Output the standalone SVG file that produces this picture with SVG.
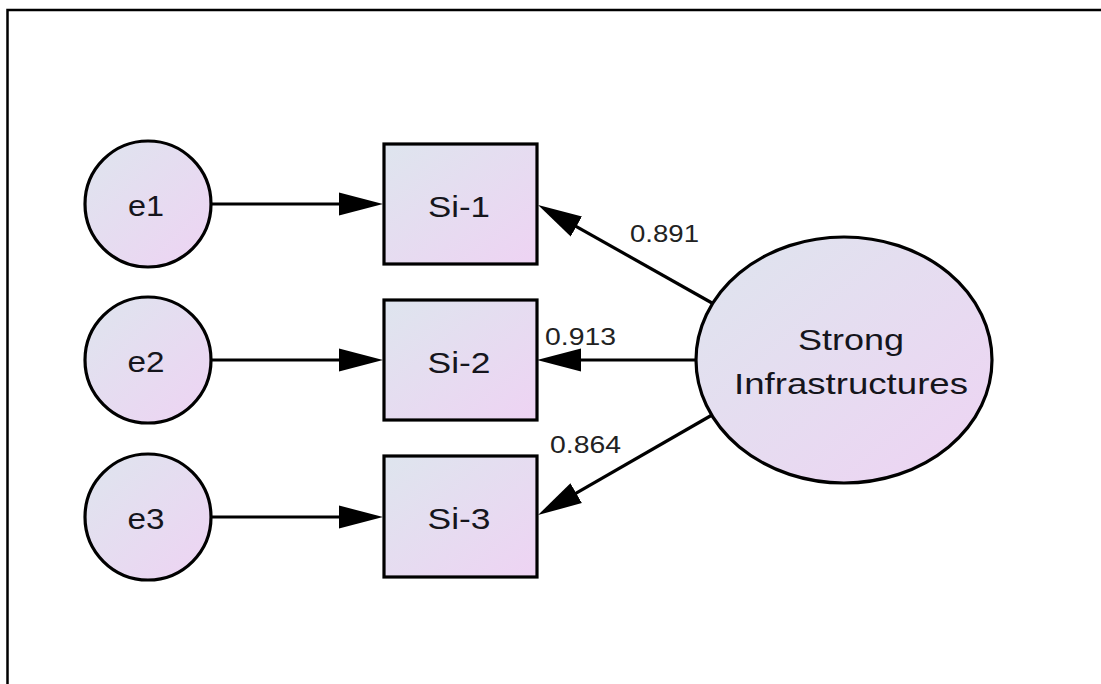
<svg xmlns="http://www.w3.org/2000/svg" width="1101" height="684" viewBox="0 0 1101 684">
  <defs>
    <linearGradient id="fillGrad" x1="0" y1="0" x2="1" y2="1">
      <stop offset="0" stop-color="#dee5ee"/>
      <stop offset="1" stop-color="#eed3f3"/>
    </linearGradient>
    <marker id="arrow" viewBox="0 0 44 24" refX="4" refY="12" markerWidth="44" markerHeight="24" markerUnits="userSpaceOnUse" orient="auto">
      <path d="M0,0.5 L44,12 L0,23.5 Z" fill="#000"/>
    </marker>
    <style>
      .shape { fill: url(#fillGrad); stroke: #000; stroke-width: 3.2; }
      .edge { fill: none; stroke: #000; stroke-width: 3.2; marker-end: url(#arrow); }
      .label { font-family: "Liberation Sans", Arial, sans-serif; font-size: 29px; fill: #15151c; text-anchor: middle; }
      .coef { font-family: "Liberation Sans", Arial, sans-serif; font-size: 24px; fill: #222; }
    </style>
  </defs>

  <rect width="1101" height="684" fill="#fff"/>
  <!-- page frame: top and left edges -->
  <path d="M7.5,684 L7.5,10 L1101,10" fill="none" stroke="#000" stroke-width="2.5"/>

  <!-- connectors -->
  <g id="connectors">
    <line class="edge" x1="211" y1="204" x2="343" y2="204"/>
    <line class="edge" x1="211" y1="360" x2="343" y2="360"/>
    <line class="edge" x1="211" y1="517" x2="343" y2="517"/>
    <line class="edge" x1="712" y1="303" x2="572.9" y2="224.6"/>
    <line class="edge" x1="696" y1="360" x2="577" y2="360"/>
    <line class="edge" x1="712" y1="415" x2="572.7" y2="495.1"/>
    <text class="coef" x="630" y="242" textLength="69" lengthAdjust="spacingAndGlyphs">0.891</text>
    <text class="coef" x="545" y="345" textLength="71" lengthAdjust="spacingAndGlyphs">0.913</text>
    <text class="coef" x="550" y="453" textLength="71" lengthAdjust="spacingAndGlyphs">0.864</text>
  </g>

  <!-- error terms -->
  <g id="e1">
    <circle class="shape" cx="148" cy="204" r="63"/>
    <text class="label" x="146" y="216" textLength="36" lengthAdjust="spacingAndGlyphs">e1</text>
  </g>
  <g id="e2">
    <circle class="shape" cx="148" cy="360" r="63"/>
    <text class="label" x="146" y="372" textLength="37" lengthAdjust="spacingAndGlyphs">e2</text>
  </g>
  <g id="e3">
    <circle class="shape" cx="148" cy="517" r="63"/>
    <text class="label" x="146" y="529" textLength="37" lengthAdjust="spacingAndGlyphs">e3</text>
  </g>

  <!-- observed indicators -->
  <g id="si1">
    <rect class="shape" x="384" y="144" width="153" height="120"/>
    <text class="label" x="459" y="217" textLength="62" lengthAdjust="spacingAndGlyphs">Si-1</text>
  </g>
  <g id="si2">
    <rect class="shape" x="384" y="300" width="153" height="120"/>
    <text class="label" x="459" y="373" textLength="63" lengthAdjust="spacingAndGlyphs">Si-2</text>
  </g>
  <g id="si3">
    <rect class="shape" x="384" y="456" width="153" height="121"/>
    <text class="label" x="459" y="529" textLength="63" lengthAdjust="spacingAndGlyphs">Si-3</text>
  </g>

  <!-- latent construct -->
  <g id="strong-infrastructures">
    <ellipse class="shape" cx="844" cy="360" rx="148" ry="123"/>
    <text class="label" x="851" y="350" textLength="106" lengthAdjust="spacingAndGlyphs">Strong</text>
    <text class="label" x="851" y="394" textLength="234" lengthAdjust="spacingAndGlyphs">Infrastructures</text>
  </g>
</svg>
